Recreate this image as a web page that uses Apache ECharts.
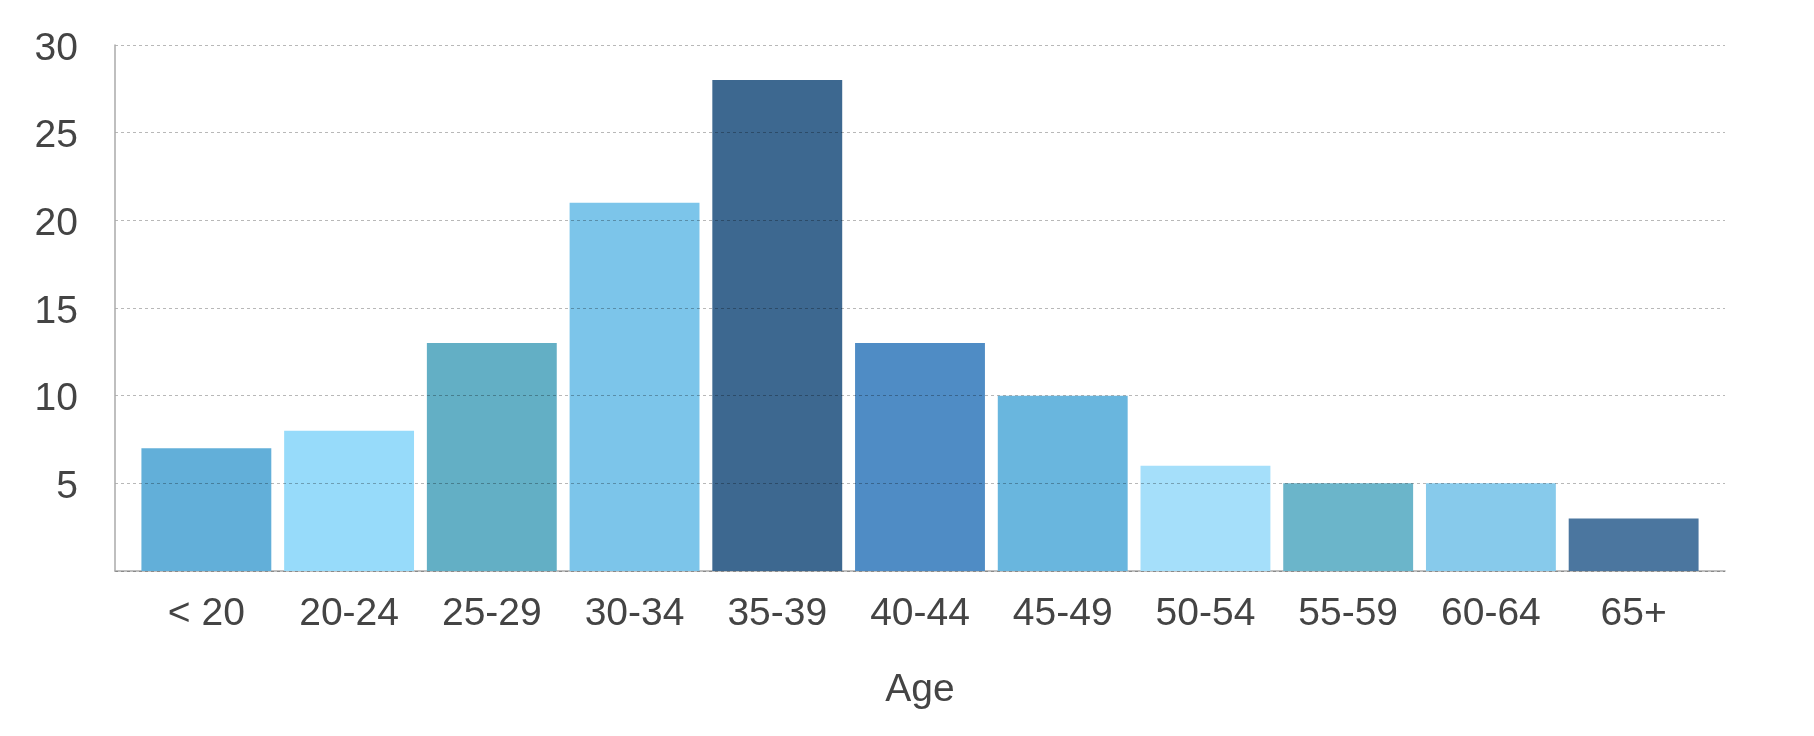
<!DOCTYPE html>
<html>
<head>
<meta charset="utf-8">
<script src="https://cdn.jsdelivr.net/npm/echarts@6/dist/echarts.min.js"></script>
<style>
html,body{margin:0;padding:0;background:#fff;}
#chart{width:1814px;height:736px;}
</style>
</head>
<body>
<div id="chart"></div>
<script>
const categories = ['< 20','20-24','25-29','30-34','35-39','40-44','45-49','50-54','55-59','60-64','65+'];
const values = [7, 8, 13, 21, 28, 13, 10, 6, 5, 5, 3];
const barColors = ['#62afd9','#97dbfa','#63afc5','#7cc5ea','#3d6890','#4f8cc5','#69b6de','#a5dffa','#6bb5ca','#87caeb','#4b769f'];
const yTicks = [0, 5, 10, 15, 20, 25, 30];

const FONT = '"Liberation Sans", Arial, Helvetica, sans-serif';
const chart = echarts.init(document.getElementById('chart'));
chart.setOption({
  animation: false,
  backgroundColor: '#ffffff',
  grid: [
    {left: 115, right: 89, top: 45, bottom: 165},
    {left: 135, right: 109, top: 45, bottom: 165}
  ],
  xAxis: [
    {
      gridIndex: 0, type: 'value', min: 0, max: 1,
      axisLine: {show: true, lineStyle: {color: '#aaaaaa', width: 1.5}},
      axisTick: {show: false}, axisLabel: {show: false}, splitLine: {show: false}
    },
    {
      gridIndex: 1, type: 'category', data: categories,
      axisLine: {show: false}, axisTick: {show: false},
      axisLabel: {color: '#444444', fontSize: 39, fontFamily: FONT, margin: 24},
      name: 'Age', nameLocation: 'middle', nameGap: 100,
      nameTextStyle: {color: '#444444', fontSize: 39, fontFamily: FONT}
    }
  ],
  yAxis: [
    {
      gridIndex: 0, type: 'value', min: yTicks[0], max: yTicks[yTicks.length-1], interval: 5,
      z: 10,
      axisLine: {show: true, lineStyle: {color: '#aaaaaa', width: 1.5}},
      axisTick: {show: false},
      axisLabel: {color: '#444444', fontSize: 39, fontFamily: FONT, margin: 37,
        verticalAlign: 'top', lineHeight: 8,
        formatter: v => v === 0 ? '' : String(v)},
      splitLine: {show: true, lineStyle: {color: 'rgba(0,0,0,0.28)', type: [3, 3], width: 1}}
    },
    {
      gridIndex: 1, type: 'value', min: 0, max: 30, show: false,
      splitLine: {show: false}
    }
  ],
  series: [{
    type: 'bar',
    xAxisIndex: 1, yAxisIndex: 1,
    barCategoryGap: '9%',
    data: values.map((v, i) => ({value: v, itemStyle: {color: barColors[i]}}))
  }]
});
</script>
</body>
</html>
